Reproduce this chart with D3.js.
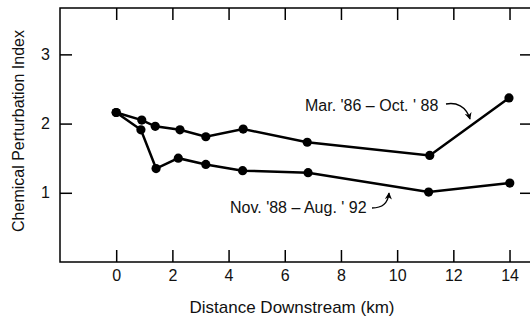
<!DOCTYPE html>
<html>
<head>
<meta charset="utf-8">
<script src="https://cdn.jsdelivr.net/npm/d3@7"></script>
<style>
  body { margin: 0; background: #fff; }
  svg { display: block; font-family: "Liberation Sans", Arial, sans-serif; }
</style>
</head>
<body>
<script>
// distances (km) and index values
var distA = [0, 0.91, 1.39, 2.27, 3.19, 4.52, 6.80, 11.16, 13.98];
var valA  = [2.16, 2.05, 1.96, 1.91, 1.81, 1.92, 1.73, 1.54, 2.37];
var distB = [0, 0.88, 1.42, 2.21, 3.19, 4.50, 6.83, 11.12, 14.01];
var valB  = [2.16, 1.91, 1.35, 1.50, 1.41, 1.32, 1.29, 1.01, 1.14];

var xTicks = [0, 2, 4, 6, 8, 10, 12, 14];
var yTicks = [1, 2, 3];
var labelA = "Mar. '86 \u2013 Oct. ' 88";
var labelB = "Nov. '88 \u2013 Aug. ' 92";

var W = 530, H = 320;
var pLeft = 60, pRight = 532, pTop = 8, pBottom = 262;

var svg = d3.select("body").append("svg")
  .attr("width", W)
  .attr("height", H);

// scales
var x = d3.scaleLinear().domain([-2, 14.8]).range([pLeft, pRight]);
var y = d3.scaleLinear().domain([0, 3.67]).range([pBottom, pTop]);

// frame
svg.append("rect")
  .attr("x", pLeft).attr("y", pTop)
  .attr("width", pRight - pLeft).attr("height", pBottom - pTop)
  .attr("fill", "none").attr("stroke", "#000").attr("stroke-width", 1.5);

function styleAxis(g) {
  g.select(".domain").remove();
  g.selectAll(".tick line").attr("stroke", "#000").attr("stroke-width", 1.5);
  g.selectAll(".tick text").attr("fill", "#111").attr("font-size", "16px")
    .attr("font-family", "'Liberation Sans', Arial, sans-serif");
}

// bottom axis
svg.append("g")
  .attr("transform", "translate(0," + pBottom + ")")
  .call(d3.axisBottom(x).tickValues(xTicks).tickSizeInner(-12).tickSizeOuter(0).tickPadding(8))
  .call(styleAxis);

// top ticks
svg.append("g")
  .attr("transform", "translate(0," + pTop + ")")
  .call(d3.axisTop(x).tickValues(xTicks).tickSizeInner(-12).tickSizeOuter(0).tickFormat(""))
  .call(styleAxis);

// left axis
svg.append("g")
  .attr("transform", "translate(" + pLeft + ",0)")
  .call(d3.axisLeft(y).tickValues(yTicks).tickFormat(d3.format("d"))
    .tickSizeInner(-12).tickSizeOuter(0).tickPadding(10))
  .call(styleAxis);

// right ticks
svg.append("g")
  .attr("transform", "translate(" + pRight + ",0)")
  .call(d3.axisRight(y).tickValues(yTicks).tickSizeInner(-12).tickSizeOuter(0).tickFormat(""))
  .call(styleAxis);

// series
var line = d3.line()
  .x(function(d) { return x(d[0]); })
  .y(function(d) { return y(d[1]); });

[[distA, valA], [distB, valB]].forEach(function(s) {
  var pts = d3.zip(s[0], s[1]);
  svg.append("path")
    .datum(pts)
    .attr("d", line)
    .attr("fill", "none")
    .attr("stroke", "#000")
    .attr("stroke-width", 2.5);
  svg.selectAll(null)
    .data(pts)
    .enter()
    .append("circle")
    .attr("cx", function(d) { return x(d[0]); })
    .attr("cy", function(d) { return y(d[1]); })
    .attr("r", 4.6)
    .attr("fill", "#000");
});

// arrowhead
svg.append("defs").append("marker")
  .attr("id", "head")
  .attr("viewBox", "0 0 10 10")
  .attr("refX", 9).attr("refY", 5)
  .attr("markerWidth", 7).attr("markerHeight", 7)
  .attr("markerUnits", "userSpaceOnUse")
  .attr("orient", "auto")
  .append("path")
  .attr("d", "M0,0 L10,5 L0,10 L3,5 Z")
  .attr("fill", "#000");

// labels
svg.append("text")
  .attr("x", 305).attr("y", 111)
  .attr("font-size", "16px").attr("fill", "#111")
  .text(labelA);
svg.append("path")
  .attr("d", "M446,104 C456,102 466,106 470,119")
  .attr("fill", "none").attr("stroke", "#000").attr("stroke-width", 1.3)
  .attr("marker-end", "url(#head)");

svg.append("text")
  .attr("x", 230).attr("y", 213)
  .attr("font-size", "16px").attr("fill", "#111")
  .text(labelB);
svg.append("path")
  .attr("d", "M372,208 C382,208 388,204 389,193")
  .attr("fill", "none").attr("stroke", "#000").attr("stroke-width", 1.3)
  .attr("marker-end", "url(#head)");

// axis titles
svg.append("text")
  .attr("x", 292).attr("y", 313)
  .attr("text-anchor", "middle")
  .attr("font-size", "17px").attr("fill", "#111")
  .text("Distance Downstream (km)");

svg.append("text")
  .attr("transform", "translate(24,131) rotate(-90)")
  .attr("text-anchor", "middle")
  .attr("font-size", "16px").attr("fill", "#111")
  .text("Chemical Perturbation Index");
</script>
</body>
</html>
